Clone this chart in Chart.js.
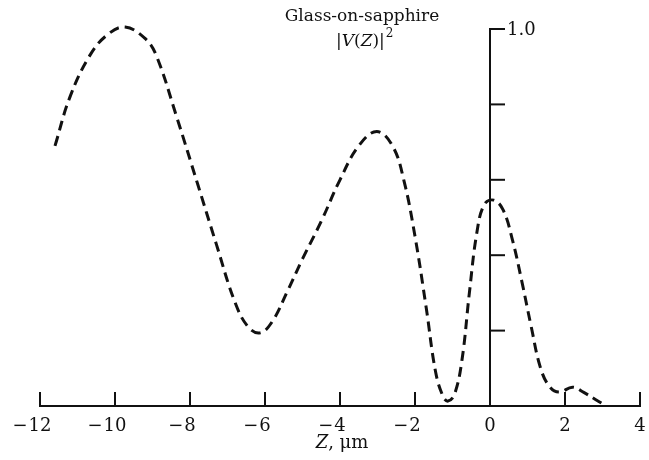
<!DOCTYPE html>
<html>
<head>
<meta charset="utf-8">
<script src="https://cdn.jsdelivr.net/npm/chart.js@4"></script>
<style>
html,body{margin:0;padding:0;background:#fff;}
#wrap{width:649px;height:460px;position:relative;}
</style>
</head>
<body>
<div id="wrap"><canvas id="c" width="649" height="460"></canvas></div>
<script>
// Z positions (µm) and |V(Z)|^2 values
const zValues = [-11.6,-11.2,-10.67,-10.2,-9.73,-9.2,-8.9,-8.35,-7.8,-7.3,-6.8,-6.45,-6.13,-5.8,-5.4,-5.0,-4.5,-4.0,-3.5,-3.02,-2.6,-2.3,-2.0,-1.7,-1.45,-1.25,-1.12,-0.95,-0.75,-0.55,-0.35,-0.15,0.1,0.35,0.6,0.85,1.1,1.35,1.6,1.85,2.2,2.5,2.8,3.02];
const vValues = [0.69,0.82,0.93,0.985,1.005,0.975,0.93,0.765,0.59,0.43,0.275,0.21,0.194,0.225,0.305,0.39,0.49,0.60,0.69,0.728,0.69,0.60,0.45,0.26,0.09,0.025,0.013,0.03,0.12,0.30,0.46,0.535,0.546,0.52,0.44,0.33,0.21,0.10,0.05,0.037,0.05,0.036,0.018,0.005];
const xTicks = [-12,-10,-8,-6,-4,-2,0,2,4];
const xTickLabels = ['\u221212','\u221210','\u22128','\u22126','\u22124','\u22122','0','2','4'];
const yTicks = [0.2,0.4,0.6,0.8,1.0];
const yTickLabels = ['','','','','1.0'];
const titleText = 'Glass-on-sapphire';
const xAxisTitle = ['Z',', \u03bcm'];

const FONT = '"DejaVu Serif", "Liberation Serif", serif';

const axesPlugin = {
  id: 'axesPlugin',
  afterDraw(chart) {
    const ctx = chart.ctx;
    const xs = chart.scales.x, ys = chart.scales.y;
    const y0 = ys.getPixelForValue(0);
    const x0 = xs.getPixelForValue(0);
    ctx.save();
    ctx.strokeStyle = '#111';
    ctx.fillStyle = '#111';
    ctx.lineWidth = 2;
    // x axis
    ctx.beginPath();
    ctx.moveTo(xs.getPixelForValue(xTicks[0]) - 1, y0);
    ctx.lineTo(xs.getPixelForValue(xTicks[xTicks.length-1]) + 1, y0);
    ctx.stroke();
    ctx.font = '18px ' + FONT;
    ctx.textAlign = 'left';
    ctx.textBaseline = 'alphabetic';
    xTicks.forEach((v,i) => {
      const px = xs.getPixelForValue(v);
      ctx.beginPath();
      ctx.moveTo(px, y0 + 1);
      ctx.lineTo(px, y0 - 14);
      ctx.stroke();
      const lbl = xTickLabels[i];
      const neg = lbl.charAt(0) === '\u2212';
      const digits = neg ? lbl.slice(1) : lbl;
      const dw = ctx.measureText(digits).width;
      const dx = px - dw / 2;
      ctx.fillText(digits, dx, y0 + 25);
      if (neg) {
        const mw = ctx.measureText('\u2212').width;
        ctx.fillText('\u2212', dx - mw - 1, y0 + 25);
      }
    });
    // y axis
    ctx.beginPath();
    ctx.moveTo(x0, y0);
    ctx.lineTo(x0, ys.getPixelForValue(1.0) - 1);
    ctx.stroke();
    ctx.textBaseline = 'middle';
    yTicks.forEach((v,i) => {
      const py = ys.getPixelForValue(v);
      ctx.beginPath();
      ctx.moveTo(x0 - 1, py);
      ctx.lineTo(x0 + 15, py);
      ctx.stroke();
      if (yTickLabels[i]) ctx.fillText(yTickLabels[i], x0 + 17, py + 1);
    });
    // x axis title
    ctx.textBaseline = 'alphabetic';
    ctx.font = 'italic 18px ' + FONT;
    const w1 = ctx.measureText(xAxisTitle[0]).width;
    ctx.font = '18px ' + FONT;
    const w2 = ctx.measureText(xAxisTitle[1]).width;
    let sx = 342 - (w1 + w2) / 2;
    ctx.font = 'italic 18px ' + FONT;
    ctx.fillText(xAxisTitle[0], sx, 448);
    ctx.font = '18px ' + FONT;
    ctx.fillText(xAxisTitle[1], sx + w1, 448);
    // title
    ctx.textAlign = 'center';
    ctx.font = '17px ' + FONT;
    ctx.fillText(titleText, 362, 21);
    // |V(Z)|^2
    const parts = [['|', ''], ['V', 'italic '], ['(', ''], ['Z', 'italic '], [')|', '']];
    ctx.textAlign = 'left';
    let px = 336;
    parts.forEach(p => {
      ctx.font = p[1] + '17px ' + FONT;
      ctx.fillText(p[0], px, 46);
      px += ctx.measureText(p[0]).width;
    });
    ctx.font = '12px ' + FONT;
    ctx.fillText('2', px + 1, 37);
    ctx.restore();
  }
};

new Chart(document.getElementById('c'), {
  type: 'line',
  data: {
    datasets: [{
      data: zValues.map((z,i) => ({x: z, y: vValues[i]})),
      borderColor: '#111',
      borderWidth: 3,
      borderDash: [10,6],
      pointRadius: 0,
      fill: false,
      tension: 0.4,
      clip: false
    }]
  },
  options: {
    responsive: false,
    animation: false,
    layout: {padding: {left: 40, right: 9, top: 29, bottom: 54}},
    plugins: {legend: {display: false}, tooltip: {enabled: false}},
    scales: {
      x: {type: 'linear', min: -12, max: 4, display: false},
      y: {type: 'linear', min: 0, max: 1, display: false}
    }
  },
  plugins: [axesPlugin]
});
</script>
</body>
</html>
